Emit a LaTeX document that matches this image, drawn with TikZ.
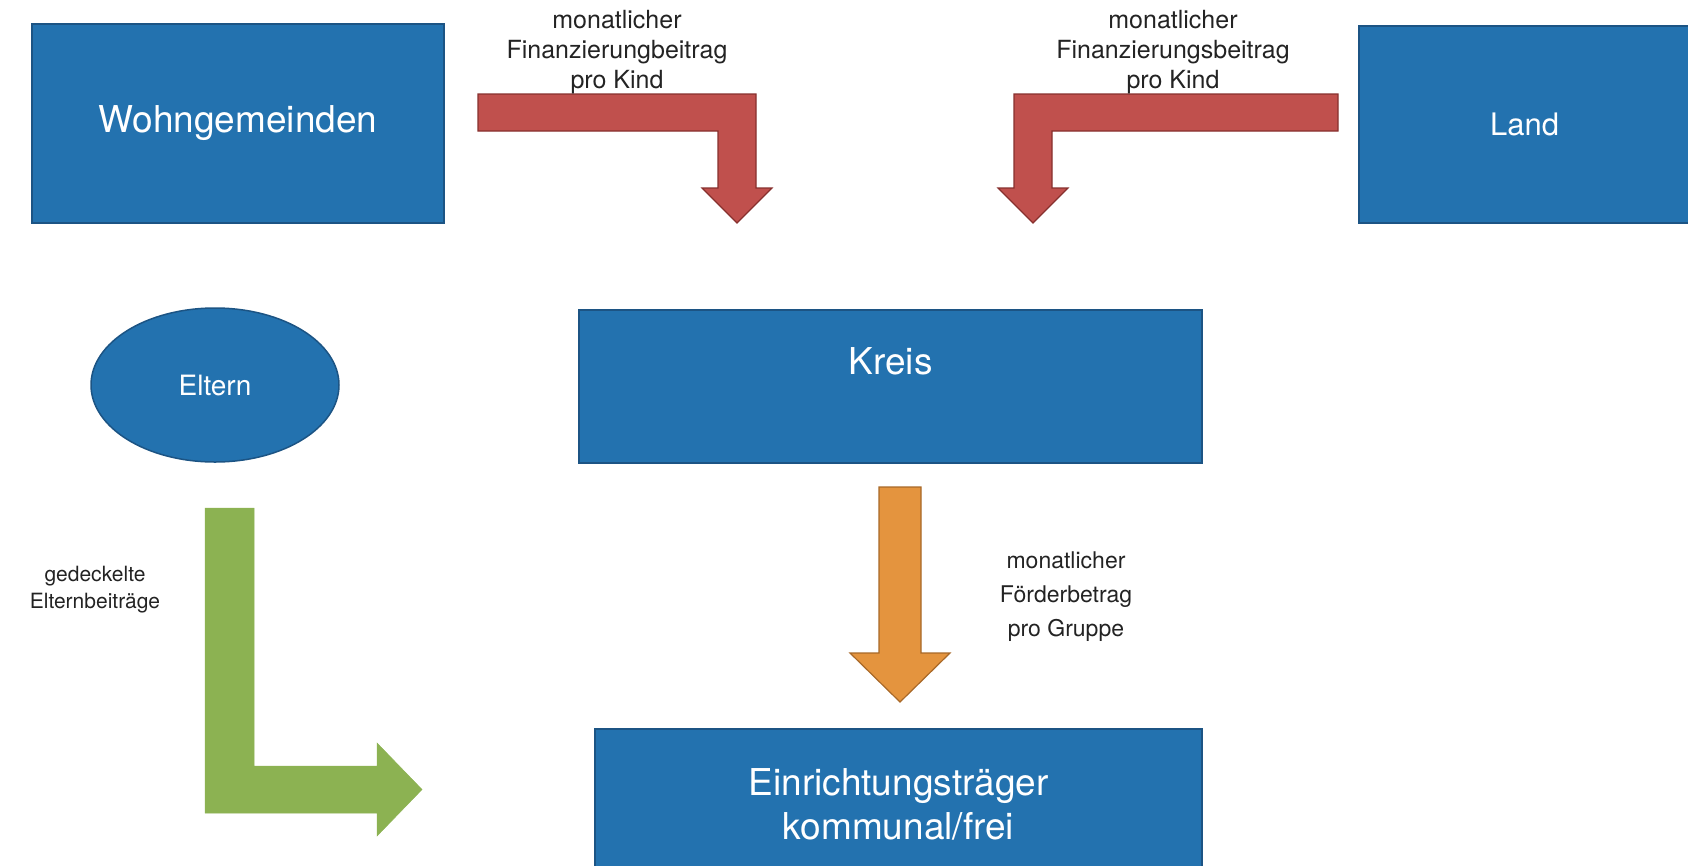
\documentclass[tikz,border=0pt]{standalone}
\usepackage{fontspec}
\setmainfont{TeX Gyre Heros}
\usetikzlibrary{shapes.geometric}
\definecolor{boxblue}{RGB}{35,114,175}
\definecolor{boxblueline}{RGB}{28,84,132}
\definecolor{flowred}{RGB}{192,80,77}
\definecolor{flowredline}{RGB}{135,48,46}
\definecolor{floworange}{RGB}{228,148,62}
\definecolor{floworangeline}{RGB}{168,104,40}
\definecolor{flowgreen}{RGB}{140,178,82}
\definecolor{labelgray}{RGB}{35,35,35}
\tikzset{
  flowbox/.style={draw=boxblueline, fill=boxblue, line width=1.5pt, text=white, inner sep=0pt, align=center},
  flowlabel/.style={text=labelgray, align=center, inner sep=0pt},
  redarrow/.style={fill=flowred, draw=flowredline, line width=1.2pt, line join=miter},
  orangearrow/.style={fill=floworange, draw=floworangeline, line width=1.2pt, line join=miter},
  greenarrow/.style={fill=flowgreen, draw=flowgreen, line width=0.5pt, line join=miter},
}
\newcommand{\BigText}{\fontsize{37}{44}\selectfont}
\newcommand{\FlowBox}[5]{
  \node [flowbox, #1] (#3) at (#4, #5) {#2};
}
\newcommand{\FlowLabel}[5]{
  \node [flowlabel, font=#1] (#3) at (#4, #5) {#2};
}
\newcommand{\BlockArrow}[2]{
  \draw [#1] #2 -- cycle;
}

\begin{document}
\begin{tikzpicture}[x=1pt, y=-1pt]
  \useasboundingbox (0,0) rectangle (1688,865);

  % payers on top
  \FlowBox{minimum width=412, minimum height=199, font=\BigText}{Wohngemeinden}{wohn}{238}{123.5}
  \FlowBox{minimum width=331, minimum height=197, font=\fontsize{31}{37}\selectfont}{Land}{land}{1524.5}{124.5}

  % Kreis in the middle, text sits high in the box
  \FlowBox{minimum width=623, minimum height=153, font=\BigText, text height=30pt, text depth=55pt}{Kreis}{kreis}{890.5}{386.5}

  % Eltern and the Traeger box at the bottom
  \node [flowbox, ellipse, minimum width=248, minimum height=154, font=\fontsize{28}{33}\selectfont] (eltern) at (215, 385) {Eltern};
  \FlowBox{minimum width=607, minimum height=151, font=\BigText}{Einrichtungstr\"ager\\kommunal/frei}{traeger}{898.5}{804.5}

  % red arrows into Kreis
  \BlockArrow{redarrow}{(478,94) -- (756,94) -- (756,188) -- (772,188) -- (737,223) -- (702,188) -- (718,188) -- (718,131) -- (478,131)}
  \BlockArrow{redarrow}{(1338,94) -- (1014,94) -- (1014,188) -- (998,188) -- (1033,223) -- (1068,188) -- (1052,188) -- (1052,131) -- (1338,131)}
  \FlowLabel{\fontsize{25}{30}\selectfont}{monatlicher\\Finanzierungbeitrag\\pro Kind}{lblwohn}{617}{52}
  \FlowLabel{\fontsize{25}{30}\selectfont}{monatlicher\\Finanzierungsbeitrag\\pro Kind}{lblland}{1173}{52}

  % orange arrow Kreis -> Traeger
  \BlockArrow{orangearrow}{(879,487) -- (921,487) -- (921,653) -- (950,653) -- (900,702) -- (850,653) -- (879,653)}
  \FlowLabel{\fontsize{23}{34}\selectfont}{monatlicher\\F\"orderbetrag\\pro Gruppe}{lblkreis}{1066}{597}

  % green arrow from Eltern
  \BlockArrow{greenarrow}{(205,508) -- (254,508) -- (254,766) -- (377,766) -- (377,743) -- (422,789.5) -- (377,836) -- (377,813) -- (205,813)}
  \FlowLabel{\fontsize{21}{27}\selectfont}{gedeckelte\\Elternbeitr\"age}{lbleltern}{95}{590}

\end{tikzpicture}
\end{document}
